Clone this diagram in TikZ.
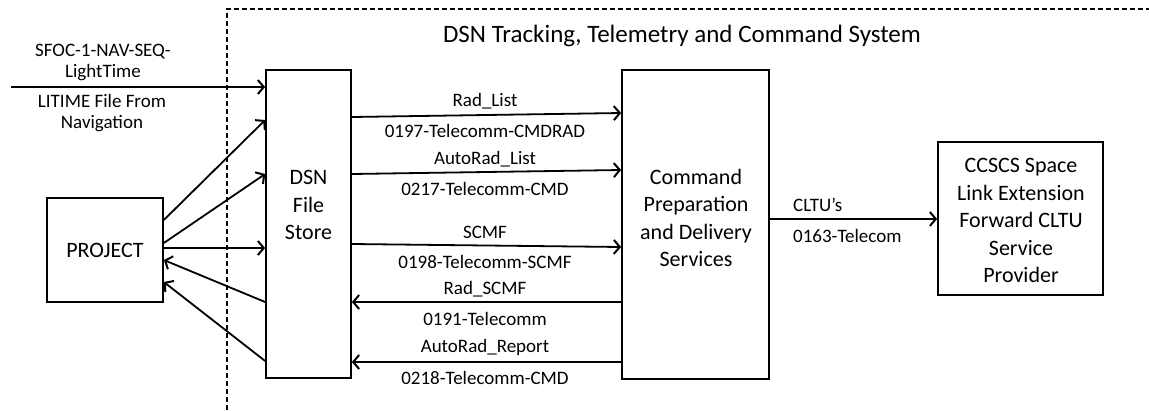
\documentclass[tikz,border=0pt]{standalone}
\usepackage{fontspec}
\setmainfont{Carlito}
\usetikzlibrary{arrows.meta}
\tikzset{
  box/.style={draw, line width=1.7pt, inner sep=0pt},
  boxtext/.style={align=center, font=\fontsize{22}{27.5}\selectfont, inner sep=0pt},
  lbl/.style={align=center, font=\fontsize{19}{21}\selectfont, inner sep=0pt},
  flow/.style={line width=1.8pt, -{Straight Barb[length=6pt,width=14pt,line width=2pt]}},
  border/.style={line width=2pt, dash pattern=on 5pt off 3pt}
}
\begin{document}
\begin{tikzpicture}[x=1pt,y=-1pt]
\useasboundingbox (0,0) rectangle (1149,410);
% dashed system boundary
\coordinate (bl) at (227,410);
\coordinate (tl) at (227,9);
\coordinate (tr) at (1149,9);
\draw[border] (bl) -- (tl) -- (tr);
\node[font=\fontsize{25}{30}\selectfont, inner sep=0pt] (title) at (682,36) {DSN Tracking, Telemetry and Command System};
% boxes
\node[box, minimum width=116pt, minimum height=104pt] (proj) at (105,250) {};
\node[boxtext] (projt) at (proj.center) {PROJECT};
\node[box, minimum width=85pt, minimum height=308pt] (dsn) at (308.5,224) {};
\node[boxtext] (dsnt) at (308.5,205) {DSN\\File\\Store};
\node[box, minimum width=147pt, minimum height=309pt] (cpds) at (695.5,224.5) {};
\node[boxtext] (cpdst) at (696,218) {Command\\Preparation\\and Delivery\\Services};
\node[box, minimum width=165pt, minimum height=153pt] (sle) at (1020.5,218.5) {};
\node[boxtext] (slet) at (1021,220.5) {CCSCS Space\\Link Extension\\Forward CLTU\\Service\\Provider};
% input from navigation
\coordinate (nav) at (11,87);
\draw[flow] (nav) -- (dsn.west |- 0,87);
\node[lbl] (navtop) at (103,62) {SFOC-1-NAV-SEQ-\\LightTime};
\node[lbl] (navbot) at (102,113) {LITIME File From\\Navigation};
% project <-> dsn
\draw[flow] (proj.east |- 0,220) -- (dsn.west |- 0,120);
\draw[flow] (proj.east |- 0,243) -- (dsn.west |- 0,174);
\draw[flow] (proj.east |- 0,248) -- (dsn.west |- 0,248);
\draw[flow] (dsn.west |- 0,302) -- (proj.east |- 0,260);
\draw[flow] (dsn.west |- 0,361) -- (proj.east |- 0,282);
% dsn <-> cpds
\draw[flow] (dsn.east |- 0,117) -- (cpds.west |- 0,113);
\node[lbl] (l1a) at (485,101) {Rad\_List};
\node[lbl] (l1b) at (485,131) {0197-Telecomm-CMDRAD};
\draw[flow] (dsn.east |- 0,174) -- (cpds.west |- 0,170);
\node[lbl] (l2a) at (485,159) {AutoRad\_List};
\node[lbl] (l2b) at (485,189) {0217-Telecomm-CMD};
\draw[flow] (dsn.east |- 0,244) -- (cpds.west |- 0,247);
\node[lbl] (l3a) at (485,232) {SCMF};
\node[lbl] (l3b) at (485,262) {0198-Telecomm-SCMF};
\draw[flow] (cpds.west |- 0,302) -- (dsn.east |- 0,302);
\node[lbl] (l4a) at (485,289) {Rad\_SCMF};
\node[lbl] (l4b) at (485,319) {0191-Telecomm};
\draw[flow] (cpds.west |- 0,362) -- (dsn.east |- 0,362);
\node[lbl] (l5a) at (485,347) {AutoRad\_Report};
\node[lbl] (l5b) at (485,378) {0218-Telecomm-CMD};
% cpds -> sle
\draw[flow] (cpds.east |- 0,219) -- (sle.west |- 0,219);
\node[lbl, anchor=west] (c1) at (793,205) {CLTU’s};
\node[lbl, anchor=west] (c2) at (793,236) {0163-Telecom};
\end{tikzpicture}
\end{document}
